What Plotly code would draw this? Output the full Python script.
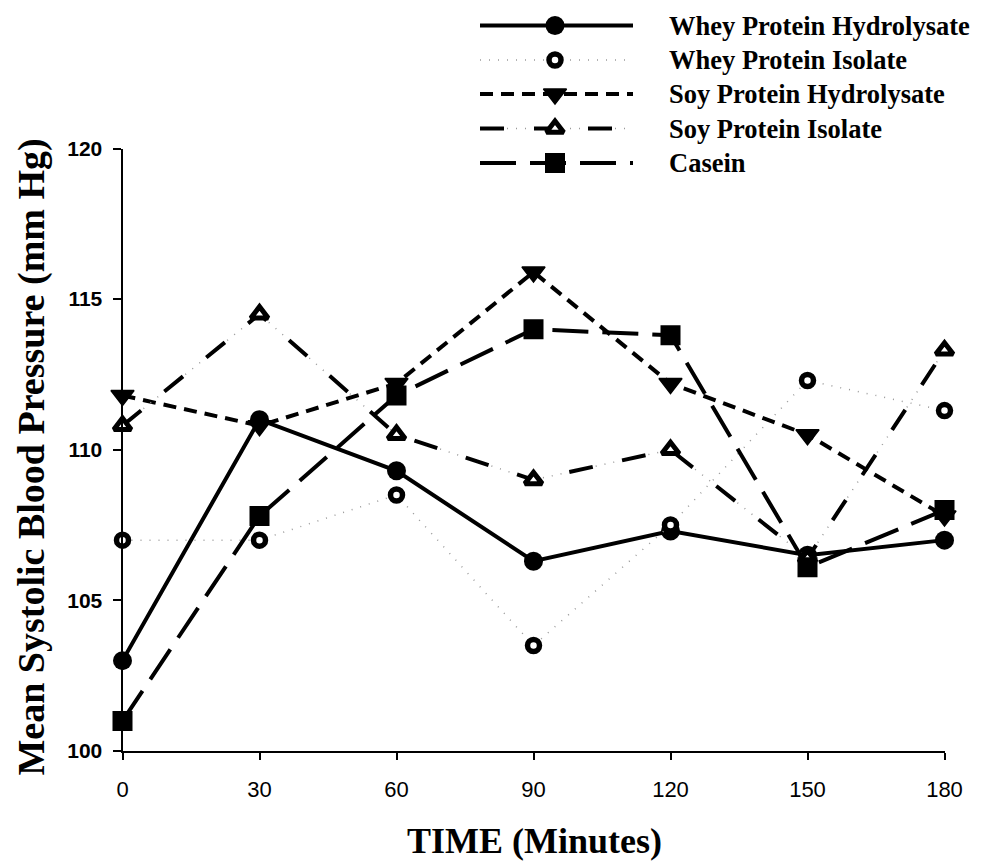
import plotly.graph_objects as go

# ---------------- data ----------------
time_min = [0, 30, 60, 90, 120, 150, 180]
whey_hydrolysate = [103.0, 111.0, 109.3, 106.3, 107.3, 106.5, 107.0]
whey_isolate = [107.0, 107.0, 108.5, 103.5, 107.5, 112.3, 111.3]
soy_hydrolysate = [111.8, 110.8, 112.2, 115.9, 112.2, 110.5, 107.8]
soy_isolate = [110.8, 114.5, 110.5, 109.0, 110.0, 106.4, 113.3]
casein = [101.0, 107.8, 111.8, 114.0, 113.8, 106.1, 108.0]

series_names = ["Whey Protein Hydrolysate", "Whey Protein Isolate",
                "Soy Protein Hydrolysate", "Soy Protein Isolate", "Casein"]
series_values = [whey_hydrolysate, whey_isolate, soy_hydrolysate, soy_isolate, casein]

x_ticks = [0, 30, 60, 90, 120, 150, 180]
y_ticks = [100, 105, 110, 115, 120]

# ---------------- layout geometry ----------------
OFF = 8                     # page body margin
W, H = 988 - OFF, 864 - OFF  # figure size so it fits the window


def fx(sx):
    return sx - OFF


def fy(sy):
    return sy - OFF


PL, PR, PT, PB = fx(122.5), fx(944.5), fy(148.5), fy(751)

styles = [
    dict(line=dict(color="black", width=4, dash="solid"),
         marker=dict(symbol="circle", size=19, color="black"), under=False),
    dict(line=dict(color="#9a9a9a", width=1.5, dash="1px,8px"),
         marker=dict(symbol="circle", size=12, color="white",
                     line=dict(color="black", width=5.5)), under=False),
    dict(line=dict(color="black", width=4, dash="13px,8px"),
         marker=dict(symbol="triangle-down", size=20, color="black",
                     line=dict(color="black", width=1.5)), under=False),
    dict(line=dict(color="black", width=4, dash="24px,30px"),
         marker=dict(symbol="triangle-up", size=15, color="white",
                     line=dict(color="black", width=5)), under=True),
    dict(line=dict(color="black", width=4, dash="36px,14px"),
         marker=dict(symbol="square", size=17, color="black",
                     line=dict(color="black", width=3)), under=False),
]

fig = go.Figure()

# main traces
for name, vals, st in zip(series_names, series_values, styles):
    if st["under"]:
        fig.add_trace(go.Scatter(x=time_min, y=vals, mode="lines",
                                 line=dict(color="#9a9a9a", width=1.5, dash="1px,8px"),
                                 showlegend=False, hoverinfo="skip", cliponaxis=False))
    fig.add_trace(go.Scatter(x=time_min, y=vals, mode="lines+markers", name=name,
                             line=st["line"], marker=st["marker"],
                             showlegend=False, cliponaxis=False))

serif = "Liberation Serif, Times New Roman, serif"
sans = "Liberation Sans, Arial, sans-serif"

# custom legend (pixel coordinate overlay)
leg_rows = [25.5, 60, 94, 128.5, 163]
leg_x0, leg_xm, leg_x1, leg_tx = 480, 555, 633, 668
for name, st, ry in zip(series_names, styles, leg_rows):
    y = fy(ry)
    if st["under"]:
        fig.add_trace(go.Scatter(x=[fx(leg_x0), fx(leg_x1)], y=[y, y], mode="lines",
                                 line=dict(color="#9a9a9a", width=1.5, dash="1px,8px"),
                                 xaxis="x2", yaxis="y2", showlegend=False,
                                 hoverinfo="skip", cliponaxis=False))
    fig.add_trace(go.Scatter(x=[fx(leg_x0), fx(leg_x1)], y=[y, y], mode="lines",
                             line=st["line"], xaxis="x2", yaxis="y2",
                             showlegend=False, hoverinfo="skip", cliponaxis=False))
    fig.add_trace(go.Scatter(x=[fx(leg_xm)], y=[y], mode="markers", marker=st["marker"],
                             xaxis="x2", yaxis="y2", showlegend=False,
                             hoverinfo="skip", cliponaxis=False))
    fig.add_annotation(x=fx(leg_tx) / W, y=(H - y) / H, xref="paper", yref="paper",
                       xanchor="left", yanchor="middle", showarrow=False, text=name,
                       borderpad=0,
                       font=dict(family=serif, size=26.5, color="black", weight="bold"))

# axis titles
fig.add_annotation(x=fx(534) / W, y=(H - fy(841)) / H, xref="paper", yref="paper",
                   xanchor="center", yanchor="middle", showarrow=False,
                   text="TIME (Minutes)",
                   font=dict(family=serif, size=36, color="black", weight="bold"))
fig.add_annotation(x=0, y=(H - fy(457)) / H, xref="paper", yref="paper",
                   xanchor="left", yanchor="middle", showarrow=False, textangle=-90,
                   text="Mean Systolic Blood Pressure (mm Hg)", borderpad=0,
                   font=dict(family=serif, size=38, color="black", weight="bold"))

fig.update_layout(
    width=W, height=H,
    margin=dict(l=0, r=0, t=0, b=0, pad=0),
    paper_bgcolor="white", plot_bgcolor="rgba(0,0,0,0)",
    showlegend=False,
    xaxis=dict(domain=[PL / W, PR / W], range=[0, 180], tickvals=x_ticks,
               automargin=False,
               showgrid=False, zeroline=False, showline=True, linecolor="black",
               linewidth=2, ticks="outside", ticklen=7, tickwidth=1.5, tickcolor="black",
               ticklabelstandoff=11,
               tickfont=dict(family=sans, size=22, color="black")),
    yaxis=dict(domain=[(H - PB) / H, (H - PT) / H], range=[100, 120], tickvals=y_ticks,
               automargin=False,
               showgrid=False, zeroline=False, showline=True, linecolor="black",
               linewidth=2, ticks="outside", ticklen=8, tickwidth=1.5, tickcolor="black",
               ticklabelstandoff=6,
               tickfont=dict(family=sans, size=21, color="black", weight="bold")),
    xaxis2=dict(domain=[0, 1], range=[0, W], anchor="y2", visible=False,
                fixedrange=True, automargin=False),
    yaxis2=dict(domain=[0, 1], range=[H, 0], anchor="x2", visible=False,
                fixedrange=True, automargin=False),
)

fig.write_html("out.html")
